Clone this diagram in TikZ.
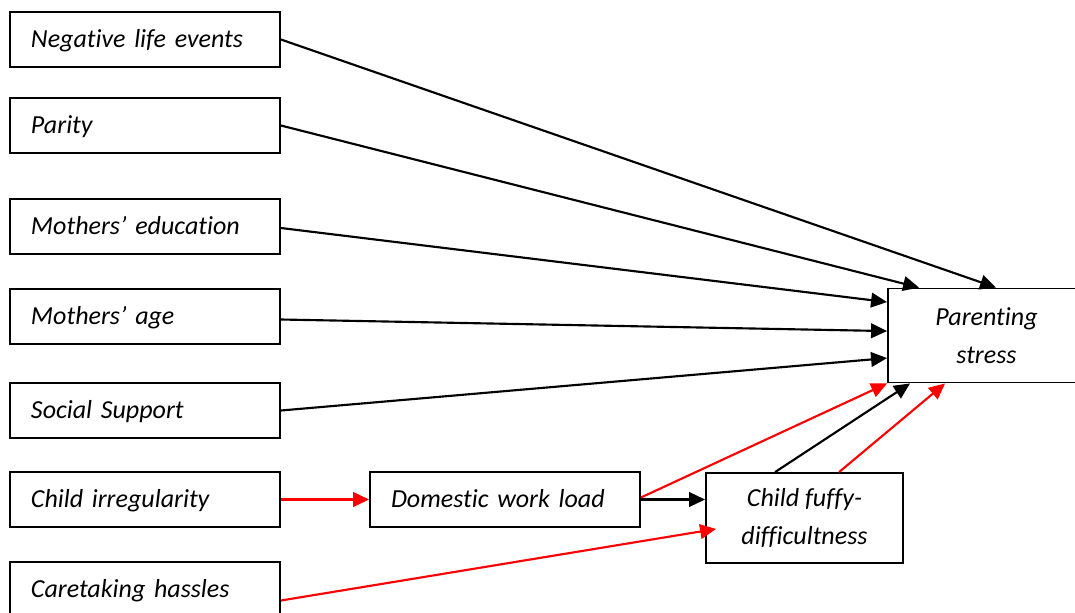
\documentclass[tikz,border=0pt]{standalone}
\usepackage{fontspec}
\setmainfont{Carlito}[Ligatures=NoCommon]
\usetikzlibrary{arrows.meta,calc}
\begin{document}
\begin{tikzpicture}[x=0.75pt,y=-0.75pt,
  font=\fontsize{19.5}{28.5}\selectfont\itshape,
  box/.style={draw,line width=1.4pt,inner sep=0pt},
  lbox/.style={box,minimum width=202.5pt,minimum height=41.25pt,
    text width=171pt,inner xsep=15.75pt,align=left,
    text height=14pt,text depth=1.5pt},
  cbox/.style={box,align=center},
  arr/.style={line width=1.6pt,-{Triangle[length=12pt,width=11pt]}},
  blk/.style={arr,black},
  redarr/.style={arr,red}]
\clip (0,0) rectangle (1075,612);
\fill[white] (0,0) rectangle (1075,612);

% predictors
\node[lbox] (ne) at (145,39.5)  {Negative life events};
\node[lbox] (pa) at (145,125.5) {Parity};
\node[lbox] (me) at (145,226.5) {Mothers’ education};
\node[lbox] (ma) at (145,316.5) {Mothers’ age};
\node[lbox] (ss) at (145,410.5) {Social Support};
\node[lbox] (ci) at (145,499.5) {Child irregularity};
\node[lbox] (ch) at (145,589.5) {Caretaking hassles};

% mediators and outcome
\node[lbox] (dw) at (505,499.5) {Domestic work load};
\node[cbox,minimum width=147.75pt,minimum height=67.5pt] (cf) at (804.5,518)
  {Child fuffy-\\difficultness};
\node[cbox,minimum width=147.75pt,minimum height=70.5pt] (ps) at (986.5,335.5)
  {Parenting\\stress};

% direct paths to parenting stress
\draw[blk] (ne.east) -- ($(ps.north west)+(109,0)$);
\draw[blk] (pa.east) -- ($(ps.north west)+(32,0)$);
\draw[blk] ($(me.east)+(0,1.5)$) -- ($(ps.north west)+(0,14.5)$);
\draw[blk] ($(ma.east)+(0,3)$) -- ($(ps.north west)+(0,43.5)$);
\draw[blk] (ss.east) -- ($(ps.north west)+(0,70.5)$);

% mediated paths
\draw[redarr] (ci.east) -- (dw.west);
\draw[blk] (dw.east) -- (dw.east -| cf.west);
\draw[redarr] ($(dw.east)+(0,-2)$) -- (ps.south west);
\draw[blk] ($(cf.north west)+(70,0)$) -- ($(ps.south west)+(23,0)$);
\draw[redarr] ($(cf.north west)+(134,0)$) -- ($(ps.south west)+(58,0)$);
\draw[redarr] ($(ch.east)+(0,11)$) -- ($(cf.south west)+(11,-35)$);
\end{tikzpicture}
\end{document}
